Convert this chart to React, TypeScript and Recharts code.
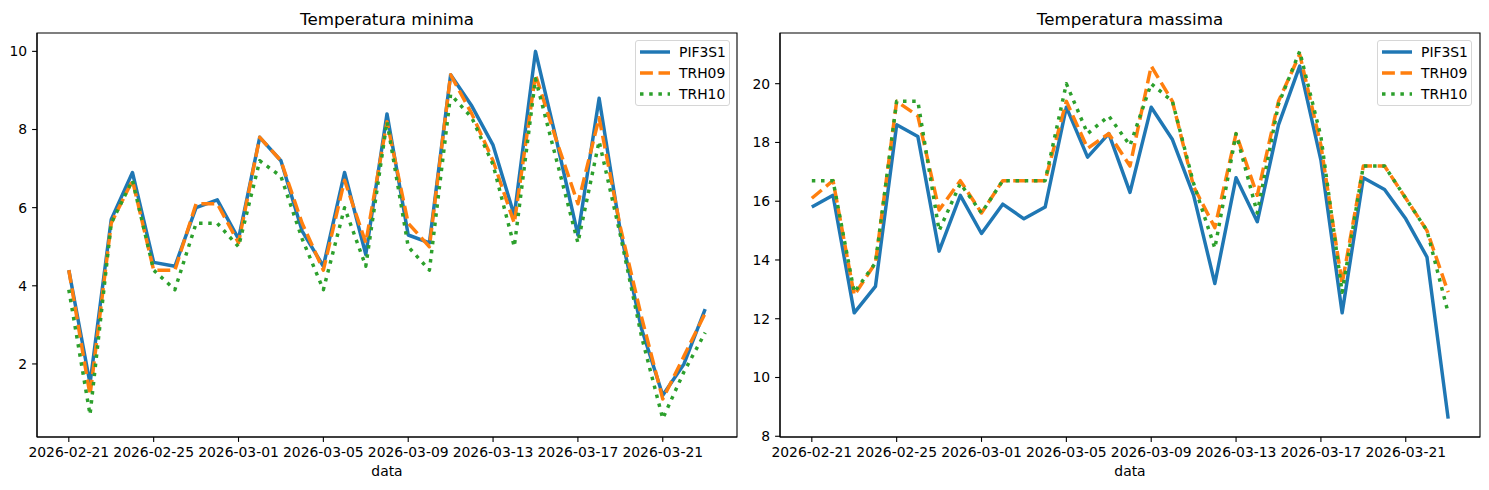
import React from "react";
import { LineChart, Line, XAxis, YAxis, ReferenceArea } from "recharts";

const dates = [
  "2026-02-21", "2026-02-22", "2026-02-23", "2026-02-24", "2026-02-25", "2026-02-26",
  "2026-02-27", "2026-02-28", "2026-03-01", "2026-03-02", "2026-03-03", "2026-03-04",
  "2026-03-05", "2026-03-06", "2026-03-07", "2026-03-08", "2026-03-09", "2026-03-10",
  "2026-03-11", "2026-03-12", "2026-03-13", "2026-03-14", "2026-03-15", "2026-03-16",
  "2026-03-17", "2026-03-18", "2026-03-19", "2026-03-20", "2026-03-21", "2026-03-22",
  "2026-03-23",
];

const tickDates = [
  "2026-02-21", "2026-02-25", "2026-03-01", "2026-03-05",
  "2026-03-09", "2026-03-13", "2026-03-17", "2026-03-21",
];

const sensors = ["PIF3S1", "TRH09", "TRH10"];

// Temperatura minima
const minPIF3S1 = [4.4, 1.5, 5.7, 6.9, 4.6, 4.5, 6.0, 6.2, 5.2, 7.8, 7.2, 5.4, 4.5, 6.9, 4.8, 8.4, 5.3, 5.1, 9.4, 8.6, 7.6, 5.8, 10.0, 7.7, 5.3, 8.8, 5.4, 2.9, 1.2, 2.0, 3.4];
const minTRH09 = [4.4, 1.2, 5.6, 6.7, 4.4, 4.4, 6.1, 6.1, 5.1, 7.8, 7.2, 5.6, 4.4, 6.7, 5.1, 8.2, 5.6, 5.0, 9.4, 8.4, 7.2, 5.6, 9.4, 7.7, 6.1, 8.3, 5.5, 3.2, 1.1, 2.2, 3.3];
const minTRH10 = [3.9, 0.7, 5.6, 6.7, 4.4, 3.9, 5.6, 5.6, 5.0, 7.2, 6.8, 5.2, 3.9, 6.0, 4.5, 8.2, 5.0, 4.4, 8.9, 8.3, 7.1, 5.0, 9.3, 7.2, 5.1, 7.7, 5.3, 2.7, 0.6, 1.8, 2.8];

// Temperatura massima
const maxPIF3S1 = [15.8, 16.2, 12.2, 13.1, 18.6, 18.2, 14.3, 16.2, 14.9, 15.9, 15.4, 15.8, 19.2, 17.5, 18.3, 16.3, 19.2, 18.1, 16.2, 13.2, 16.8, 15.3, 18.6, 20.6, 17.4, 12.2, 16.8, 16.4, 15.4, 14.1, 8.6];
const maxTRH09 = [16.1, 16.7, 12.8, 13.9, 19.4, 18.9, 15.7, 16.7, 15.6, 16.7, 16.7, 16.7, 19.4, 17.8, 18.3, 17.2, 20.6, 19.4, 16.5, 15.1, 18.3, 16.2, 19.4, 21.0, 17.9, 13.2, 17.2, 17.2, 16.1, 15.0, 12.9];
const maxTRH10 = [16.7, 16.7, 12.9, 13.9, 19.4, 19.4, 15.0, 16.6, 15.6, 16.7, 16.7, 16.7, 20.0, 18.3, 18.9, 17.9, 20.0, 19.4, 16.6, 14.4, 18.3, 15.6, 19.3, 21.1, 18.2, 12.9, 17.2, 17.2, 16.1, 15.0, 12.2];

const minTicks = [2, 4, 6, 8, 10];
const maxTicks = [8, 10, 12, 14, 16, 18, 20];

const FONT = "'DejaVu Sans', sans-serif";
const FS = 13.9;
const LW = 3.47;

const styles = [
  { color: "#1f77b4", dash: undefined as string | undefined },
  { color: "#ff7f0e", dash: "12.9 5.6" },
  { color: "#2ca02c", dash: "3.5 5.7" },
];

function buildRows(a: number[], b: number[], c: number[]) {
  return dates.map((d, i) => ({ t: i, date: d, PIF3S1: a[i], TRH09: b[i], TRH10: c[i] }));
}

function padDomain(series: number[][]): [number, number] {
  const all = series.flat();
  const lo = Math.min(...all);
  const hi = Math.max(...all);
  const p = (hi - lo) * 0.05;
  return [lo - p, hi + p];
}

const xDomain: [number, number] = [-1.5, dates.length - 1 + 1.5];
const xTicks = tickDates.map((d) => dates.indexOf(d));

function Legend({ left }: { left: number }) {
  return (
    <div
      style={{
        position: "absolute",
        left,
        top: 40,
        width: 95,
        height: 66,
        boxSizing: "border-box",
        border: "1px solid #d6d6d6",
        borderRadius: 3,
        background: "rgba(255,255,255,0.8)",
        fontFamily: FONT,
        fontSize: FS,
      }}
    >
      {sensors.map((s, i) => (
        <div key={s} style={{ position: "absolute", left: 0, top: 11 + i * 21 - 10, height: 20, width: "100%" }}>
          <svg width={34} height={20} style={{ position: "absolute", left: 3, top: 0 }}>
            <line
              x1={1}
              x2={31}
              y1={10}
              y2={10}
              stroke={styles[i].color}
              strokeWidth={LW}
              strokeDasharray={styles[i].dash}
            />
          </svg>
          <span style={{ position: "absolute", left: 43, top: 1, lineHeight: "18px", color: "#000" }}>{s}</span>
        </div>
      ))}
    </div>
  );
}

function Panel({
  left,
  a,
  b,
  c,
  ticks,
}: {
  left: number;
  a: number[];
  b: number[];
  c: number[];
  ticks: number[];
}) {
  const rows = buildRows(a, b, c);
  const yDomain = padDomain([a, b, c]);
  const tickStyle = { fill: "#000", fontSize: FS, fontFamily: FONT };
  return (
    <div style={{ position: "absolute", left, top: 0 }}>
      <LineChart width={744} height={490} data={rows} margin={{ top: 33, right: 7, left: 0, bottom: 0 }}>
        <XAxis
          type="number"
          dataKey="t"
          domain={xDomain}
          allowDataOverflow
          ticks={xTicks}
          interval={0}
          tickFormatter={(i) => dates[i]}
          height={53}
          tickSize={4.9}
          tickMargin={4.9}
          tick={tickStyle}
          tickLine={{ stroke: "#000", strokeWidth: 1.1 }}
          axisLine={{ stroke: "#000", strokeWidth: 1.1 }}
        />
        <YAxis
          type="number"
          domain={yDomain}
          allowDataOverflow
          ticks={ticks}
          interval={0}
          width={37}
          tickSize={4.9}
          tickMargin={4.9}
          tick={tickStyle}
          tickLine={{ stroke: "#000", strokeWidth: 1.1 }}
          axisLine={{ stroke: "#000", strokeWidth: 1.1 }}
        />
        {sensors.map((s, i) => (
          <Line
            key={s}
            type="linear"
            dataKey={s}
            stroke={styles[i].color}
            strokeWidth={LW}
            strokeDasharray={styles[i].dash}
            strokeLinejoin="round"
            dot={false}
            activeDot={false}
            isAnimationActive={false}
          />
        ))}
        <ReferenceArea
          x1={xDomain[0]}
          x2={xDomain[1]}
          y1={yDomain[0]}
          y2={yDomain[1]}
          fill="none"
          fillOpacity={0}
          stroke="#000"
          strokeWidth={1.1}
          ifOverflow="visible"
        />
      </LineChart>
    </div>
  );
}

export default function App() {
  return (
    <div style={{ position: "relative", width: 1489, height: 490, background: "#fff", overflow: "hidden" }}>
      <style>{"body{margin:0;background:#fff}"}</style>
      <Panel left={0} a={minPIF3S1} b={minTRH09} c={minTRH10} ticks={minTicks} />
      <Panel left={743} a={maxPIF3S1} b={maxTRH09} c={maxTRH10} ticks={maxTicks} />
      <Legend left={635} />
      <Legend left={1377} />
      <svg width={1489} height={490} style={{ position: "absolute", left: 0, top: 0, pointerEvents: "none" }}>
        <g fontFamily={FONT} fill="#000" textAnchor="middle">
          <text x={387} y={25} fontSize={16.7}>Temperatura minima</text>
          <text x={1130} y={25} fontSize={16.7}>Temperatura massima</text>
          <text x={387} y={476} fontSize={FS}>data</text>
          <text x={1130} y={476} fontSize={FS}>data</text>
        </g>
      </svg>
    </div>
  );
}
